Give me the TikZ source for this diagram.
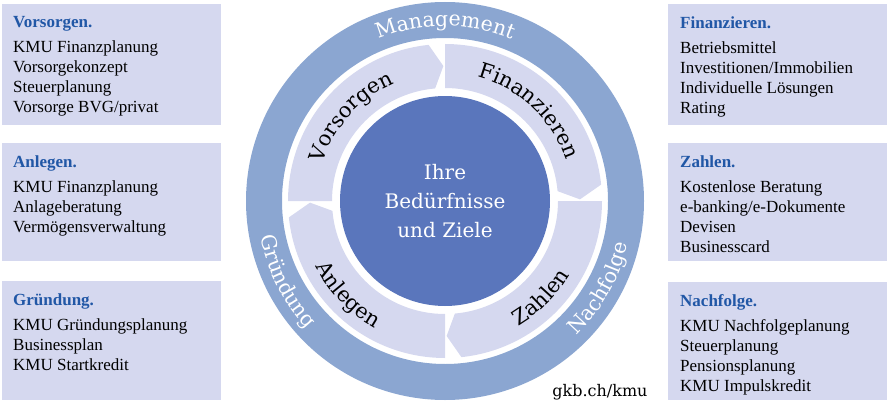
\documentclass[tikz,border=0pt]{standalone}
\usepackage{fontspec}
\setmainfont{Liberation Serif}
\newfontfamily\wheelfont{DejaVu Serif}
\usetikzlibrary{positioning,decorations.text}

\definecolor{ringblue}{HTML}{8BA6D1}
\definecolor{hubblue}{HTML}{5A76BC}
\definecolor{paleblue}{HTML}{D5D8EF}
\definecolor{titleblue}{HTML}{2157A6}

\newcommand\boxtitle[1]{\textcolor{titleblue}{\bfseries #1}}

\tikzset{
  ringlabel/.style={decorate,decoration={text along path,text align=center,
      text color=white,text={|\wheelfont\fontsize{20.5}{20.5}\selectfont|#1}}},
  arrowlabel/.style={decorate,decoration={text along path,text align=center,
      text color=black,text={|\wheelfont\fontsize{21}{21}\selectfont|#1}}}
}

\begin{document}
\begin{tikzpicture}[x=1pt,y=1pt]
  \useasboundingbox (0,0) rectangle (889,408);

  % the wheel
  \coordinate (wheel) at (445,207);
  \fill[ringblue,even odd rule] (wheel) circle[radius=199] (wheel) circle[radius=163];

  \foreach \tail in {180,90,0,270}
    \fill[paleblue] ([shift={(\tail:113)}]wheel) -- ([shift={(\tail:157)}]wheel)
      arc[start angle=\tail,end angle=\tail-84,radius=157]
      -- ([shift={(\tail-89.3:135)}]wheel)
      -- ([shift={(\tail-85:113)}]wheel)
      arc[start angle=\tail-85,end angle=\tail,radius=113] -- cycle;

  \node[circle,fill=hubblue,minimum size=210pt,inner sep=0pt,text=white,align=center,
        font=\wheelfont\fontsize{20}{29}\selectfont] (hub) at (wheel) {Ihre\\Bedürfnisse\\und Ziele};

  \path[ringlabel=Management] ([shift={(135:175)}]wheel) arc[start angle=135,end angle=45,radius=175];
  \path[ringlabel=Nachfolge]  ([shift={(-75:188)}]wheel) arc[start angle=-75,end angle=16,radius=188];
  \path[ringlabel=Gründung]   ([shift={(162:188)}]wheel) arc[start angle=162,end angle=252,radius=188];

  \path[arrowlabel=Vorsorgen]   ([shift={(183:128)}]wheel) arc[start angle=183,end angle=93,radius=128];
  \path[arrowlabel=Finanzieren] ([shift={(92:128)}]wheel)  arc[start angle=92,end angle=2,radius=128];
  \path[arrowlabel=Zahlen]      ([shift={(-90:145)}]wheel) arc[start angle=-90,end angle=0,radius=145];
  \path[arrowlabel=Anlegen]     ([shift={(179:145)}]wheel) arc[start angle=179,end angle=269,radius=145];

  % the boxes
  \begin{scope}[every node/.style={rectangle,fill=paleblue,minimum width=219pt,
                minimum height=121pt,inner sep=0pt,anchor=north west}]
    \node (vorsorgenbox)   at (2,404)   {};
    \node (anlegenbox)     at (2,265)   [minimum height=118pt] {};
    \node (gruendungbox)   at (2,127)   [minimum height=119pt] {};
    \node (finanzierenbox) at (668,404) {};
    \node (zahlenbox)      at (668,265) [minimum height=118pt] {};
    \node (nachfolgebox)   at (668,126) [minimum height=118pt] {};
  \end{scope}

  \begin{scope}[every node/.style={inner sep=0pt,align=left,font=\fontsize{17}{20}\selectfont}]
    \node[below right=12.5pt and 11pt of vorsorgenbox.north west] (vorsorgentext)
      {\boxtitle{Vorsorgen.}\\[5pt]KMU Finanzplanung\\Vorsorgekonzept\\Steuerplanung\\Vorsorge BVG/privat};
    \node[below right=12.5pt and 11pt of anlegenbox.north west] (anlegentext)
      {\boxtitle{Anlegen.}\\[5pt]KMU Finanzplanung\\Anlageberatung\\Vermögensverwaltung};
    \node[below right=12.5pt and 11pt of gruendungbox.north west] (gruendungtext)
      {\boxtitle{Gründung.}\\[5pt]KMU Gründungsplanung\\Businessplan\\KMU Startkredit};
    \node[below right=12.5pt and 12pt of finanzierenbox.north west] (finanzierentext)
      {\boxtitle{Finanzieren.}\\[5pt]Betriebsmittel\\Investitionen/Immobilien\\Individuelle Lösungen\\Rating};
    \node[below right=12.5pt and 12pt of zahlenbox.north west] (zahlentext)
      {\boxtitle{Zahlen.}\\[5pt]Kostenlose Beratung\\e-banking/e-Dokumente\\Devisen\\Businesscard};
    \node[below right=12.5pt and 12pt of nachfolgebox.north west] (nachfolgetext)
      {\boxtitle{Nachfolge.}\\[5pt]KMU Nachfolgeplanung\\Steuerplanung\\Pensionsplanung\\KMU Impulskredit};
  \end{scope}

  \node[font=\wheelfont\fontsize{16}{16}\selectfont] (weblink) at (600,16) {gkb.ch/kmu};

\end{tikzpicture}
\end{document}
